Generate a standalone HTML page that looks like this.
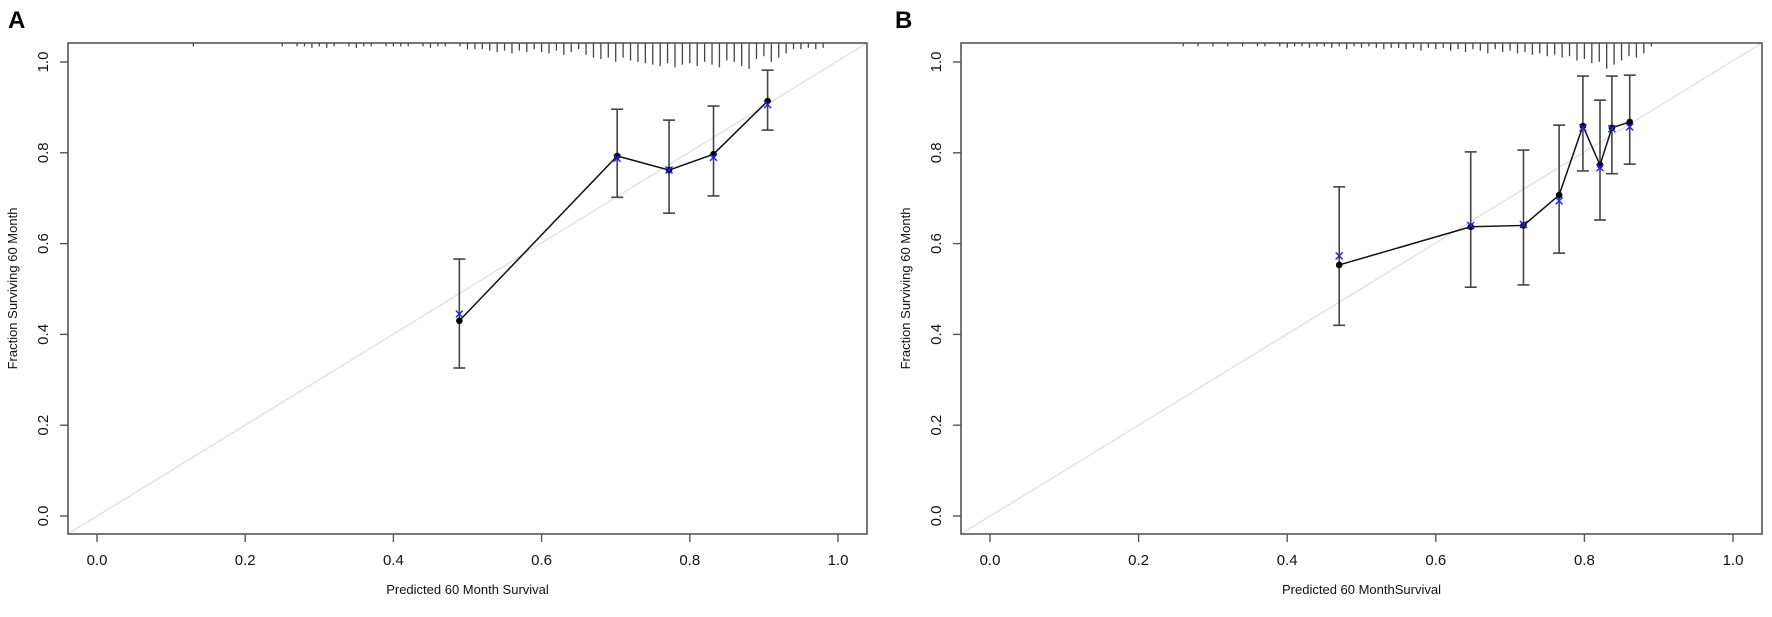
<!DOCTYPE html>
<html><head><meta charset="utf-8"><style>
html,body{margin:0;padding:0;background:#fff;}
svg{display:block;font-family:"Liberation Sans",Arial,sans-serif;}
</style></head><body>
<svg id="chart" width="1772" height="617" viewBox="0 0 1772 617">
<text x="8" y="28" font-size="24" font-weight="bold">A</text>
<text x="895" y="28" font-size="24" font-weight="bold">B</text>
</svg>
<script>
// ---- Panel A data ----
const aPred = [0.489, 0.702, 0.772, 0.832, 0.905];
const aObs = [0.430, 0.793, 0.762, 0.797, 0.914];
const aCorr = [0.445, 0.788, 0.762, 0.790, 0.906];
const aLow = [0.326, 0.702, 0.667, 0.705, 0.850];
const aHigh = [0.566, 0.896, 0.872, 0.903, 0.982];
const aRugStart = 0.13;
const aRug = [1,0,0,0,0,0,0,
 0,0,0,0,0,1,0,1,1,2,
 1,2,1,0,1,2,1,1,0,1,
 1,1,1,0,1,2,1,1,0,1,
 3,3,3,4,5,4,6,4,5,3,
 5,6,4,7,5,3,7,9,10,9,
 12,9,11,12,13,14,15,13,16,14,
 13,15,12,14,16,11,12,15,17,10,
 8,12,9,6,3,3,2,3,2];
// ---- Panel B data ----
const bPred = [0.470, 0.647, 0.718, 0.766, 0.798, 0.821, 0.837, 0.861];
const bObs = [0.553, 0.637, 0.640, 0.707, 0.859, 0.773, 0.855, 0.868];
const bCorr = [0.573, 0.640, 0.642, 0.694, 0.855, 0.767, 0.853, 0.857];
const bLow = [0.420, 0.504, 0.509, 0.579, 0.760, 0.652, 0.754, 0.775];
const bHigh = [0.725, 0.802, 0.806, 0.861, 0.969, 0.916, 0.969, 0.971];
const bRugStart = 0.26;
const bRug = [1,0,1,0,
 1,0,1,0,1,0,1,1,0,1,
 2,1,1,2,1,1,2,1,3,1,
 2,1,2,3,2,2,3,2,4,2,
 3,2,4,3,5,3,4,6,3,5,
 4,6,5,7,6,8,7,9,8,11,
 10,13,12,17,14,11,8,9,6,1];
const tickLabels = ["0.0","0.2","0.4","0.6","0.8","1.0"];
const tickVals = [0,0.2,0.4,0.6,0.8,1.0];

const NS = "http://www.w3.org/2000/svg";
const svg = document.getElementById('chart');
function mk(tag, attrs, parent){
  const e = document.createElementNS(NS, tag);
  for (const k in attrs) e.setAttribute(k, attrs[k]);
  (parent||svg).appendChild(e);
  return e;
}
function panel(p){
  const g = mk('g', {});
  
  
  const L = p.left, R = p.right, T = 43, B = 534;
  const x0 = L + 29, x1 = R - 29;
  const X = v => x0 + v * (x1 - x0);
  const Y = v => 516 - v * 454;
  // diagonal
  const diag = mk('line', {x1:L, y1:B, x2:R, y2:T, stroke:'#dddddd', 'stroke-width':1.2}, g);
  
  
  // rug
  const rg = mk('g', {stroke:'#444', 'stroke-width':1.3}, g);
  
  
  p.rug.forEach((c, i) => {
    if (!c) return;
    const xv = X(p.rugStart + i * 0.01);
    const ln = mk('line', {x1:xv, x2:xv, y1:T, y2:T + 2 + c * 1.4}, rg);
    
    
  });
  // error bars
  p.pred.forEach((v, i) => {
    const eg = mk('g', {stroke:'#444', 'stroke-width':1.6, fill:'none'}, g);
    
    
    const xv = X(v);
    mk('line', {x1:xv, x2:xv, y1:Y(p.low[i]), y2:Y(p.high[i])}, eg);
    mk('line', {x1:xv-6, x2:xv+6, y1:Y(p.low[i]), y2:Y(p.low[i])}, eg);
    mk('line', {x1:xv-6, x2:xv+6, y1:Y(p.high[i]), y2:Y(p.high[i])}, eg);
  });
  // connecting line
  const pts = p.pred.map((v, i) => X(v) + ',' + Y(p.obs[i])).join(' ');
  const pl = mk('polyline', {points:pts, fill:'none', stroke:'#111', 'stroke-width':1.5}, g);
  
  
  // points
  p.pred.forEach((v, i) => {
    const c = mk('circle', {cx:X(v), cy:Y(p.obs[i]), r:3.3, fill:'#000'}, g);
    
    
    const xv = X(v), yv = Y(p.corr[i]);
    const cr = mk('path', {d:`M${xv-3.5},${yv-3.5}L${xv+3.5},${yv+3.5}M${xv-3.5},${yv+3.5}L${xv+3.5},${yv-3.5}`, stroke:'#2222ee', 'stroke-width':1.4}, g);
    
    
  });
  // box
  const bx = mk('rect', {x:L, y:T, width:R-L, height:B-T, fill:'none', stroke:'#555', 'stroke-width':1.6}, g);
  
  
  // axes ticks
  tickVals.forEach((v, i) => {
    mk('line', {x1:X(v), x2:X(v), y1:B, y2:B+8, stroke:'#555', 'stroke-width':1.4}, g);
    const t = mk('text', {x:X(v), y:565, 'font-size':15, 'text-anchor':'middle', fill:'#111'}, g);
    t.textContent = tickLabels[i];
    
    
    mk('line', {x1:L-8, x2:L, y1:Y(v), y2:Y(v), stroke:'#555', 'stroke-width':1.4}, g);
    const ty = mk('text', {x:0, y:0, 'font-size':15, 'text-anchor':'middle', fill:'#111', transform:`translate(${L-20},${Y(v)}) rotate(-90)`}, g);
    ty.textContent = tickLabels[i];
    
    
  });
  const xt = mk('text', {x:(x0+x1)/2, y:594, 'font-size':13, 'text-anchor':'middle', fill:'#111'}, g);
  xt.textContent = p.xtitle;
  
  
  const yt = mk('text', {x:0, y:0, 'font-size':13, 'text-anchor':'middle', fill:'#111', transform:`translate(${L-51},${(T+B)/2}) rotate(-90)`}, g);
  yt.textContent = 'Fraction Surviving 60 Month';
  
  
}
panel({name:'panel-a', left:68, right:867, pred:aPred, obs:aObs, corr:aCorr, low:aLow, high:aHigh, rug:aRug, rugStart:aRugStart, xtitle:'Predicted  60 Month Survival'});
panel({name:'panel-b', left:961, right:1762, pred:bPred, obs:bObs, corr:bCorr, low:bLow, high:bHigh, rug:bRug, rugStart:bRugStart, xtitle:'Predicted  60 MonthSurvival'});
</script>
</body></html>
